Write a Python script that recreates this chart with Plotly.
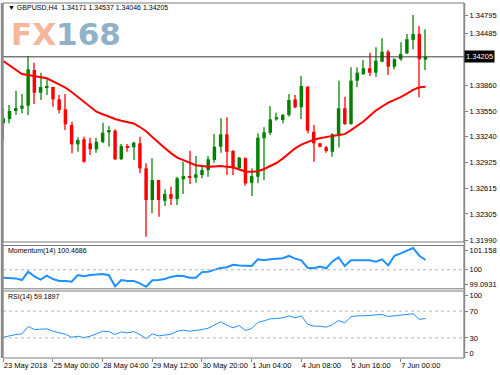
import plotly.graph_objects as go
from plotly.subplots import make_subplots

# ---- data (GBPUSD H4) ----
open_ = [1.33401, 1.33453, 1.33550, 1.33578, 1.33614, 1.34046, 1.33771, 1.33832, 1.33840, 1.33691,
         1.33571, 1.33381, 1.33147, 1.33208, 1.33159, 1.33087, 1.33175, 1.33292, 1.33312, 1.32969,
         1.33126, 1.33111, 1.33159, 1.32857, 1.32473, 1.32715, 1.32465, 1.32546, 1.32485, 1.32724,
         1.32763, 1.32743, 1.32776, 1.32836, 1.32957, 1.33118, 1.33268, 1.33066, 1.32857, 1.32978,
         1.32682, 1.32755, 1.33220, 1.33287, 1.33449, 1.33441, 1.33502, 1.33691, 1.33595, 1.33844,
         1.33299, 1.33159, 1.33111, 1.33057, 1.33272, 1.33583, 1.33393, 1.33917, 1.33998, 1.34067,
         1.34013, 1.34146, 1.34267, 1.34086, 1.34176, 1.34248, 1.34409, 1.34482, 1.34171]
high = [1.33583, 1.33623, 1.33796, 1.33756, 1.34215, 1.34134, 1.34013, 1.33934, 1.33844, 1.33744,
        1.33756, 1.33420, 1.33232, 1.33239, 1.33227, 1.33227, 1.33408, 1.33368, 1.33329, 1.33151,
        1.33151, 1.33178, 1.33239, 1.32917, 1.32978, 1.32720, 1.32603, 1.32634, 1.32755, 1.32936,
        1.33070, 1.33005, 1.32897, 1.33005, 1.33272, 1.33462, 1.33474, 1.33078, 1.32997, 1.32990,
        1.32857, 1.33280, 1.33353, 1.33610, 1.33529, 1.33514, 1.33756, 1.33744, 1.33973, 1.33852,
        1.33381, 1.33166, 1.33126, 1.33280, 1.33917, 1.33723, 1.34079, 1.34079, 1.34167, 1.34255,
        1.34321, 1.34430, 1.34288, 1.34188, 1.34381, 1.34482, 1.34712, 1.34578, 1.34537]
low = [1.33199, 1.33401, 1.33502, 1.33522, 1.33502, 1.33635, 1.33683, 1.33744, 1.33602, 1.33522,
       1.33320, 1.33038, 1.33057, 1.32924, 1.33018, 1.33045, 1.33159, 1.33118, 1.32957, 1.32957,
       1.33057, 1.32957, 1.32796, 1.32029, 1.32312, 1.32271, 1.32400, 1.32413, 1.32413, 1.32546,
       1.32667, 1.32682, 1.32736, 1.32755, 1.32924, 1.33045, 1.32776, 1.32776, 1.32850, 1.32646,
       1.32521, 1.32675, 1.32715, 1.33260, 1.33433, 1.33401, 1.33481, 1.33583, 1.33453, 1.33280,
       1.32936, 1.33111, 1.33045, 1.32997, 1.33111, 1.33381, 1.33385, 1.33837, 1.33986, 1.33973,
       1.33965, 1.34140, 1.33986, 1.34055, 1.34159, 1.34240, 1.34297, 1.33716, 1.34046]
close = [1.33462, 1.33550, 1.33586, 1.33614, 1.34055, 1.33771, 1.33840, 1.33844, 1.33691, 1.33562,
         1.33389, 1.33147, 1.33199, 1.32936, 1.33087, 1.33178, 1.33287, 1.33320, 1.32966, 1.33126,
         1.33111, 1.33166, 1.32857, 1.32473, 1.32715, 1.32473, 1.32546, 1.32489, 1.32736, 1.32763,
         1.32743, 1.32784, 1.32836, 1.32966, 1.33118, 1.33268, 1.33057, 1.32857, 1.32985, 1.32675,
         1.32763, 1.33227, 1.33292, 1.33449, 1.33474, 1.33502, 1.33683, 1.33595, 1.33852, 1.33312,
         1.33159, 1.33118, 1.33066, 1.33268, 1.33583, 1.33393, 1.33917, 1.34013, 1.34067, 1.34013,
         1.34159, 1.34267, 1.34086, 1.34176, 1.34240, 1.34418, 1.34482, 1.34176, 1.34205]
ma = [1.34155, 1.34101, 1.34046, 1.33998, 1.33986, 1.33971, 1.33958, 1.33946, 1.33907, 1.33869,
      1.33832, 1.33780, 1.33722, 1.33664, 1.33602, 1.33541, 1.33511, 1.33480, 1.33453, 1.33433,
      1.33419, 1.33400, 1.33356, 1.33306, 1.33235, 1.33166, 1.33103, 1.33041, 1.32987, 1.32956,
      1.32924, 1.32895, 1.32886, 1.32876, 1.32880, 1.32884, 1.32877, 1.32869, 1.32843, 1.32818,
      1.32815, 1.32821, 1.32849, 1.32883, 1.32921, 1.32974, 1.33041, 1.33099, 1.33143, 1.33176,
      1.33203, 1.33221, 1.33238, 1.33249, 1.33260, 1.33270, 1.33319, 1.33370, 1.33423, 1.33489,
      1.33555, 1.33604, 1.33652, 1.33685, 1.33717, 1.33759, 1.33806, 1.33837, 1.33844]
momentum = [99.62, 99.62, 99.59, 99.51, 99.91, 99.69, 99.53, 99.72, 99.56, 99.47,
            99.47, 99.43, 99.75, 99.69, 99.75, 99.77, 99.80, 99.74, 99.21, 99.51,
            99.47, 99.47, 99.35, 99.19, 99.50, 99.51, 99.56, 99.66, 99.72, 99.70,
            99.62, 99.62, 99.89, 99.91, 99.99, 100.09, 100.12, 100.24, 100.20, 100.18,
            100.18, 100.50, 100.45, 100.50, 100.53, 100.55, 100.66, 100.53, 100.45, 100.10,
            100.07, 100.16, 100.07, 100.40, 100.59, 100.18, 100.45, 100.45, 100.45, 100.45,
            100.39, 100.50, 100.21, 100.67, 100.78, 100.91, 101.04, 100.67, 100.4686]
rsi = [31.0, 33.5, 35.0, 36.0, 47.0, 42.5, 43.5, 43.5, 40.0, 38.0,
       35.5, 31.0, 32.5, 30.5, 32.5, 36.0, 40.0, 39.5, 35.0, 39.0,
       37.5, 39.5, 35.0, 29.0, 36.0, 33.0, 34.5, 35.5, 40.0, 41.5,
       40.0, 41.0, 42.5, 44.5, 49.0, 54.0, 49.0, 45.0, 48.5, 41.0,
       44.0, 53.0, 55.5, 58.5, 59.0, 60.0, 63.0, 60.0, 63.0, 50.5,
       47.5, 47.5, 46.0, 49.5, 56.0, 52.5, 61.5, 63.0, 63.0, 63.5,
       64.5, 65.0, 62.0, 63.0, 64.0, 65.0, 66.0, 57.5, 59.1897]

xtick_idx = [0, 8, 16, 24, 32, 40, 48, 56, 64]
xtick_text = ["23 May 2018", "25 May 00:00", "28 May 04:00", "29 May 12:00", "30 May 20:00",
              "1 Jun 04:00", "4 Jun 08:00", "5 Jun 16:00", "7 Jun 00:00"]
price_tickvals = [1.34702, 1.34485, 1.33860, 1.33550, 1.33240, 1.32925, 1.32615, 1.32305, 1.31990]
price_ticktext = ["1.34795", "1.34485", "1.33860", "1.33550", "1.33240", "1.32925", "1.32615", "1.32305", "1.31990"]
mom_tickvals = [100.943, 100.0, 99.308]
mom_ticktext = ["101.158", "100", "99.0931"]
rsi_tickvals = [93.5, 70, 30, 7.5]
rsi_ticktext = ["100", "70", "30", "0"]
last_price = 1.34205
header = "GBPUSD,H4  1.34171 1.34537 1.34046 1.34205"

n = len(close)
x = list(range(n))
up = [c >= o for o, c in zip(open_, close)]
body_base = [min(o, c) for o, c in zip(open_, close)]
body_h = [max(abs(c - o), 0.00008) for o, c in zip(open_, close)]
wick_base = low
wick_h = [h - l for h, l in zip(high, low)]

GREEN, RED = "#008000", "#ff0000"
GREEN_W, RED_W = "#5fb05f", "#ff5a5a"

fig = make_subplots(rows=3, cols=1, shared_xaxes=True, vertical_spacing=0.01)

fig.add_trace(go.Bar(x=x, y=wick_h, base=wick_base, width=0.17,
                     marker=dict(color=[GREEN_W if u else RED_W for u in up], line=dict(width=0)),
                     hoverinfo="skip"), row=1, col=1)
fig.add_trace(go.Bar(x=x, y=body_h, base=body_base, width=0.56,
                     marker=dict(color=[GREEN if u else RED for u in up], line=dict(width=0)),
                     hoverinfo="skip"), row=1, col=1)
fig.add_trace(go.Scatter(x=x, y=ma, mode="lines", line=dict(color="#ff0000", width=2),
                         hoverinfo="skip"), row=1, col=1)
fig.add_trace(go.Scatter(x=x, y=momentum, mode="lines", line=dict(color="#1e90ff", width=2),
                         hoverinfo="skip"), row=2, col=1)
fig.add_trace(go.Scatter(x=x, y=rsi, mode="lines", line=dict(color="#1e90ff", width=1),
                         hoverinfo="skip"), row=3, col=1)

fig.add_hline(y=last_price, line=dict(color="#3a3a3a", width=1), row=1, col=1)
fig.add_hline(y=100, line=dict(color="#b4b4b4", width=1, dash="dot"), row=2, col=1)
fig.add_hline(y=70, line=dict(color="#b4b4b4", width=1, dash="dot"), row=3, col=1)
fig.add_hline(y=30, line=dict(color="#b4b4b4", width=1, dash="dot"), row=3, col=1)

FONT = "Liberation Sans, Arial, sans-serif"
axfont = dict(family=FONT, size=7.5, color="#000")

fig.update_layout(
    width=500, height=375,
    margin=dict(l=3, r=33, t=3, b=17),
    paper_bgcolor="white", plot_bgcolor="white",
    showlegend=False, barmode="overlay",
    font=dict(family=FONT, size=7.5, color="#000"),
)
for i in (1, 2, 3):
    fig.update_xaxes(range=[-0.05, 74.2], showgrid=False, zeroline=False, showline=False,
                     row=i, col=1)
fig.update_xaxes(tickmode="array", tickvals=xtick_idx, ticktext=xtick_text, ticks="outside",
                 ticklen=3, tickcolor="#808080", tickfont=axfont, tickangle=0,
                 ticklabelposition="outside right", row=3, col=1)

fig.update_yaxes(side="right", showgrid=False, zeroline=False, ticks="outside", ticklen=3,
                 tickcolor="#808080", tickfont=axfont)
fig.update_layout(
    yaxis=dict(domain=[0.3268, 1.0], range=[1.31966, 1.34856], tickmode="array",
               tickvals=price_tickvals, ticktext=price_ticktext),
    yaxis2=dict(domain=[0.1949, 0.3169], range=[99.0931, 101.158], tickmode="array",
                tickvals=mom_tickvals, ticktext=mom_ticktext),
    yaxis3=dict(domain=[0.0, 0.1887], range=[0, 100], tickmode="array",
                tickvals=rsi_tickvals, ticktext=rsi_ticktext),
)

# panel frames
for xr, yr in (("x", "y"), ("x2", "y2"), ("x3", "y3")):
    fig.add_shape(type="rect", xref=f"{xr} domain", yref=f"{yr} domain", x0=0, x1=1, y0=0, y1=1,
                  line=dict(color="#7a7a7a", width=1), layer="above")
fig.add_shape(type="line", xref="paper", yref="paper", x0=-0.002, x1=-0.002, y0=0, y1=1,
              line=dict(color="#8a8a8a", width=2.5))
fig.add_shape(type="line", xref="paper", yref="paper", x0=1.001, x1=1.001, y0=0, y1=1,
              line=dict(color="#8a8a8a", width=1.5))

# texts
fig.add_annotation(xref="paper", yref="paper", x=0.0065, y=0.9865, xanchor="left", yanchor="middle",
                   text="▼ " + header.replace("  ", "&nbsp;&nbsp;"), showarrow=False,
                   font=dict(family=FONT, size=7, color="#000"))
fig.add_annotation(xref="paper", yref="paper", x=0.013, y=0.912, xanchor="left", yanchor="middle",
                   text='<span style="color:#f5b69b">FX</span><span style="color:#8fb1ca">168</span>',
                   showarrow=False, font=dict(family="DejaVu Sans", size=31, weight="bold"))
fig.add_annotation(xref="paper", yref="paper", x=0.0065, y=0.3014, xanchor="left", yanchor="middle",
                   text="Momentum(14) 100.4686", showarrow=False,
                   font=dict(family=FONT, size=7, color="#000"))
fig.add_annotation(xref="paper", yref="paper", x=0.0065, y=0.1718, xanchor="left", yanchor="middle",
                   text="RSI(14) 59.1897", showarrow=False,
                   font=dict(family=FONT, size=7, color="#000"))
fig.add_annotation(xref="paper", yref="y", x=1.0, y=last_price, xanchor="left", yanchor="middle",
                   text="1.34205", showarrow=False, bgcolor="#000", borderpad=1,
                   font=dict(family=FONT, size=7.5, color="#fff"))

fig.write_html("out.html")
